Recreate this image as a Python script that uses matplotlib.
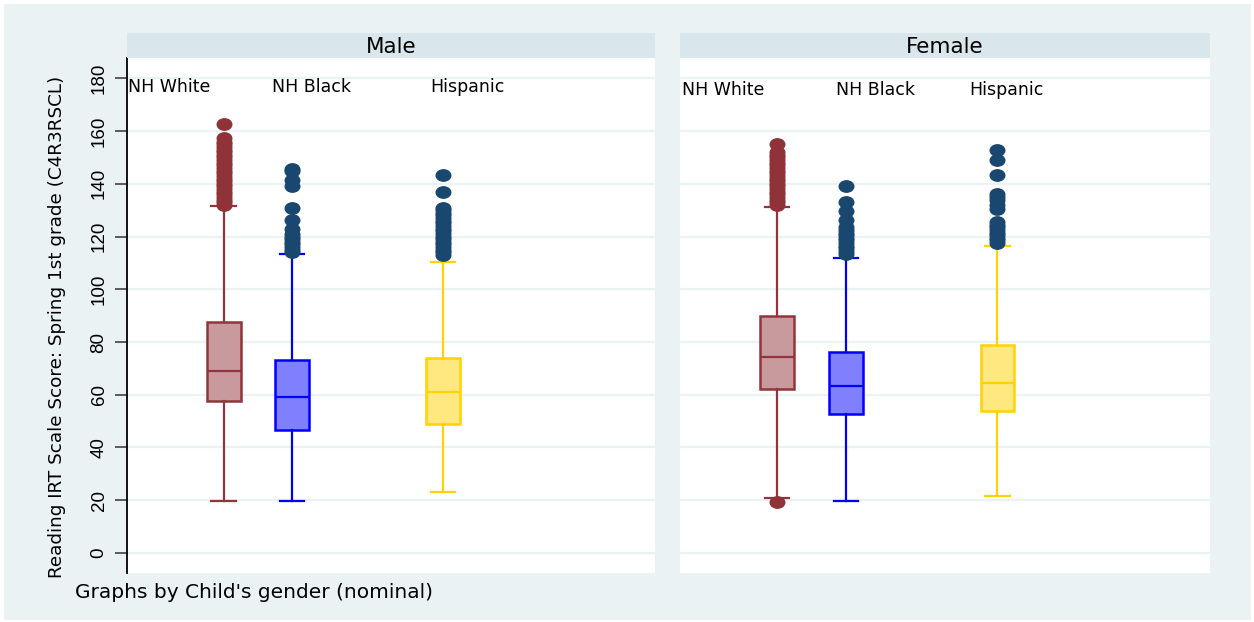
import matplotlib.pyplot as plt
import matplotlib.patches as mpatches
from matplotlib import font_manager
from matplotlib.path import Path
from matplotlib.transforms import Affine2D

# reading scores by race/ethnicity, split by gender
groups = ["NH White", "NH Black", "Hispanic"]
panels = ["Male", "Female"]

male_q1 = [57.8, 46.5, 48.9]
male_med = [68.9, 59.2, 60.9]
male_q3 = [87.5, 73.1, 74.0]
male_lo = [19.8, 19.7, 23.0]
male_hi = [131.4, 113.3, 110.2]
male_out = [
    [162.8, 157.2, 156, 155, 154, 153, 152, 151, 150, 149, 148, 147, 146, 145,
     144, 143, 142, 141, 140, 139, 138, 137, 136, 135, 134, 133, 132],
    [145.7, 145, 141.3, 139.3, 131, 126.1, 123, 121, 120, 119, 118, 117, 116,
     115, 114],
    [143.4, 136.9, 131, 130, 129, 128, 127, 126, 125, 124, 123, 122, 121, 120,
     119, 118, 117, 116, 115, 114, 113],
]

female_q1 = [62.2, 52.8, 53.8]
female_med = [74.2, 63.5, 64.5]
female_q3 = [90.0, 76.3, 78.9]
female_lo = [20.7, 19.7, 21.5]
female_hi = [131.2, 111.9, 116.5]
female_out = [
    [155.2, 152, 151, 150, 149, 148, 147, 146, 145, 144, 143, 142, 141, 140,
     139, 138, 137, 136, 135, 134, 133, 132, 19.4],
    [139.1, 133, 129.7, 126.4, 123.6, 122.5, 121.5, 120.5, 119.5, 118.5, 117.5,
     116.5, 115.5, 114.5, 113.5],
    [152.9, 149.1, 143.4, 136.2, 135, 133.7, 132, 130.5, 125.5, 124.5, 123.5,
     122.5, 121.5, 120.5, 119.5, 118.5, 117.5],
]

yticks = [0, 20, 40, 60, 80, 100, 120, 140, 160, 180]

edge_colors = ["#90353B", "#0000FF", "#FFD200"]
fill_colors = ["#C89A9E", "#8080FF", "#FFE880"]
dot_colors = ["#8F3339", "#1A476F", "#1A476F"]
positions = [0.183, 0.313, 0.599]
label_x = {"Male": [0.002, 0.275, 0.574], "Female": [0.004, 0.294, 0.545]}
label_y = {"Male": 176.6, "Female": 175.4}

bg = "#EAF2F3"
strip = "#D9E6EB"
W, H = 1254, 622

# narrow face for the rotated axis title if one is installed
narrow = None
for f in font_manager.fontManager.ttflist:
    if "Narrow" in f.name or "Condensed" in f.name or f.stretch == "condensed":
        if "Sans" in f.name:
            narrow = f.name
            break
ylab_family = [narrow, "Liberation Sans"] if narrow else ["Liberation Sans", "DejaVu Sans"]

fig = plt.figure(figsize=(W / 100, H / 100), dpi=100)
fig.patch.set_facecolor("white")
fig.patches.append(mpatches.Rectangle((4 / W, 2 / H), 1247 / W, 616 / H,
                                      transform=fig.transFigure,
                                      facecolor=bg, edgecolor="none", zorder=-10))

# slightly flattened dots
dot = Path.unit_circle().transformed(Affine2D().scale(1.0, 0.78))

data = {
    "Male": (male_q1, male_med, male_q3, male_lo, male_hi, male_out),
    "Female": (female_q1, female_med, female_q3, female_lo, female_hi, female_out),
}
lefts = {"Male": 127, "Female": 680}
widths_px = {"Male": 528, "Female": 530}

ylab = None
for name in panels:
    q1, med, q3, lo, hi, out = data[name]
    ax = fig.add_axes([lefts[name] / W, (H - 573) / H, widths_px[name] / W, 515 / H])
    ax.set_facecolor("white")
    sax = fig.add_axes([lefts[name] / W, (H - 58) / H, widths_px[name] / W, 25 / H])
    sax.set_facecolor(strip)
    sax.set_xticks([])
    sax.set_yticks([])
    for s in sax.spines.values():
        s.set_visible(False)
    sax.text(0.5, 0.45, name, ha="center", va="center", fontsize=15.5,
             family="DejaVu Sans", color="black", transform=sax.transAxes)

    for i in range(3):
        stats = [{"med": med[i], "q1": q1[i], "q3": q3[i],
                  "whislo": lo[i], "whishi": hi[i], "fliers": out[i]}]
        ax.bxp(stats, positions=[positions[i]], widths=0.064, capwidths=0.046,
               patch_artist=True, manage_ticks=False,
               boxprops=dict(facecolor=fill_colors[i], edgecolor=edge_colors[i], linewidth=1.8),
               medianprops=dict(color=edge_colors[i], linewidth=1.6),
               whiskerprops=dict(color=edge_colors[i], linewidth=1.6),
               capprops=dict(color=edge_colors[i], linewidth=1.6),
               flierprops=dict(marker=dot, markersize=10.5, markerfacecolor=dot_colors[i],
                               markeredgecolor=dot_colors[i], linestyle="none"))
        ax.text(label_x[name][i], label_y[name], groups[i], fontsize=12.5,
                family="DejaVu Sans", ha="left", va="center",
                transform=ax.get_yaxis_transform())

    ax.set_xlim(0, 1)
    ax.set_ylim(-7.6, 187.7)
    ax.set_yticks(yticks)
    ax.grid(axis="y", color=bg, linewidth=1.6)
    ax.set_axisbelow(True)
    ax.set_xticks([])
    for s in ["top", "right", "bottom"]:
        ax.spines[s].set_visible(False)
    if name == "Male":
        ax.spines["left"].set_linewidth(1.3)
        ax.tick_params(axis="y", length=9, width=1.1, pad=5, labelsize=13.5,
                       labelrotation=90, color="#333333")
        for lab in ax.get_yticklabels():
            lab.set_family(["Liberation Sans", "DejaVu Sans"])
            lab.set_va("center")
        ylab = ax.set_ylabel("Reading IRT Scale Score: Spring 1st grade (C4R3RSCL)",
                             fontsize=16, family=ylab_family)
        ax.yaxis.set_label_coords(-0.116, 0.477)
    else:
        ax.spines["left"].set_visible(False)
        ax.tick_params(axis="y", length=0, labelleft=False)

# fit the axis title to the span of the plot
renderer = fig.canvas.get_renderer()
span = ylab.get_window_extent(renderer).height
ylab.set_fontsize(ylab.get_fontsize() * 505 / span)

fig.text(75 / W, 1 - 592 / H, "Graphs by Child's gender (nominal)", fontsize=14.5,
         family="DejaVu Sans", ha="left", va="center")

fig.savefig("out.png", dpi=100, facecolor=fig.get_facecolor())
